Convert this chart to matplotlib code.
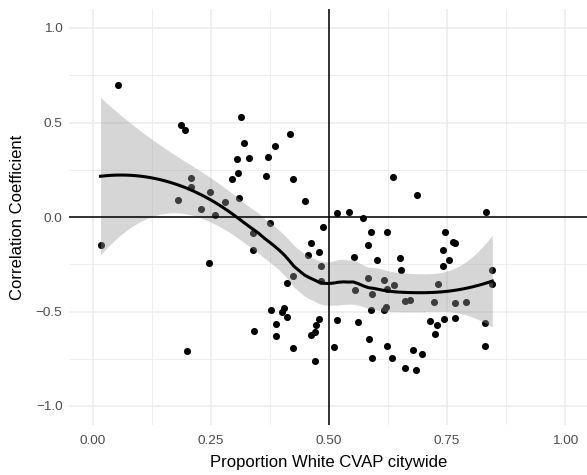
import numpy as np
import matplotlib
matplotlib.use("Agg")
import matplotlib.pyplot as plt

# ---- data ----
prop_white = [0.016, 0.053, 0.181, 0.186, 0.195, 0.200, 0.207, 0.208, 0.229, 0.246,
              0.248, 0.258, 0.279, 0.294, 0.305, 0.307, 0.310, 0.313, 0.319, 0.331,
              0.338, 0.338, 0.341, 0.366, 0.370, 0.375, 0.377, 0.386, 0.387, 0.387,
              0.400, 0.405, 0.410, 0.410, 0.417, 0.424, 0.424, 0.424, 0.450, 0.456,
              0.462, 0.462, 0.470, 0.470, 0.472, 0.478, 0.479, 0.483, 0.484, 0.487,
              0.510, 0.517, 0.518, 0.543, 0.554, 0.556, 0.561, 0.573, 0.582, 0.583,
              0.585, 0.588, 0.590, 0.591, 0.592, 0.601, 0.617, 0.617, 0.620, 0.622,
              0.623, 0.623, 0.633, 0.635, 0.638, 0.650, 0.652, 0.660, 0.660, 0.671,
              0.677, 0.685, 0.686, 0.698, 0.713, 0.722, 0.725, 0.728, 0.731, 0.742,
              0.742, 0.744, 0.746, 0.754, 0.763, 0.766, 0.766, 0.767, 0.791, 0.831,
              0.831, 0.832, 0.846, 0.846]
corr_coef = [-0.150, 0.698, 0.090, 0.487, 0.460, -0.709, 0.157, 0.205, 0.042, -0.242,
             0.134, 0.009, 0.078, 0.203, 0.307, 0.234, 0.102, 0.529, 0.390, 0.312,
             -0.083, -0.173, -0.605, 0.219, 0.316, -0.032, -0.492, 0.376, -0.568, -0.628,
             -0.504, -0.483, -0.351, -0.531, 0.439, 0.199, -0.310, -0.691, 0.083, -0.200,
             -0.138, -0.626, -0.607, -0.760, -0.573, -0.183, -0.540, -0.261, -0.339, -0.055,
             -0.686, 0.020, -0.543, 0.024, -0.210, -0.385, -0.556, -0.004, -0.323, -0.150,
             -0.644, -0.490, -0.078, -0.744, -0.406, -0.228, -0.335, -0.492, -0.476, -0.079,
             -0.379, -0.683, -0.746, 0.212, -0.362, -0.219, -0.280, -0.446, -0.801, -0.441,
             -0.704, -0.810, 0.115, -0.725, -0.549, -0.451, -0.620, -0.570, -0.357, -0.176,
             -0.261, -0.542, -0.082, -0.230, -0.132, -0.140, -0.537, -0.457, -0.450, -0.559,
             -0.683, 0.025, -0.281, -0.356]

x_ticks = [0.0, 0.25, 0.5, 0.75, 1.0]
x_tick_labels = ["0.00", "0.25", "0.50", "0.75", "1.00"]
y_ticks = [-1.0, -0.5, 0.0, 0.5, 1.0]
y_tick_labels = ["\u22121.0", "\u22120.5", "0.0", "0.5", "1.0"]


def loess(x, y, xs, span=0.75):
    n = len(x)
    q = int(np.floor(n * span))

    def row(x0):
        d = np.abs(x - x0)
        h = np.sort(d)[q - 1] * (1 + 1e-6)
        u = np.clip(d / h, 0, 1)
        w = (1 - u ** 3) ** 3
        X = np.column_stack([np.ones(n), x - x0, (x - x0) ** 2])
        W = X * w[:, None]
        A = X.T @ W
        return np.linalg.solve(A, W.T)[0]

    L = np.array([row(v) for v in x])
    Lg = np.array([row(v) for v in xs])
    fit = Lg @ y
    res = y - L @ y
    M = np.eye(n) - L
    MM = M.T @ M
    d1 = np.trace(MM)
    d2 = np.trace(MM @ MM)
    s = np.sqrt(np.sum(res ** 2) / d1)
    se = s * np.sqrt(np.sum(Lg ** 2, axis=1))
    df = d1 ** 2 / d2
    z = 1.959964
    t = z + (z ** 3 + z) / (4 * df) + (5 * z ** 5 + 16 * z ** 3 + 3 * z) / (96 * df ** 2)
    return fit, fit - t * se, fit + t * se


x = np.array(prop_white)
y = np.array(corr_coef)
xs = np.linspace(x.min(), x.max(), 80)
fit, lo, hi = loess(x, y, xs)

W, H = 587, 475
fig = plt.figure(figsize=(W / 100, H / 100), dpi=100)
plt.rcParams["font.family"] = ["Liberation Sans", "DejaVu Sans"]

# axes in pixel coordinates: x 0 -> 93px, 1 -> 565px ; y 0 -> 217px, 1 -> 28px
xpx = lambda v: 93 + v * 472
ypx = lambda v: 217 - v * 189
left, right = xpx(-0.05), xpx(1.05)
top, bottom = ypx(1.1), ypx(-1.1)
ax = fig.add_axes([left / W, 1 - bottom / H, (right - left) / W, (bottom - top) / H])
ax.set_xlim(-0.05, 1.05)
ax.set_ylim(-1.1, 1.1)

for s in ax.spines.values():
    s.set_visible(False)
ax.set_xticks(x_ticks)
ax.set_xticklabels(x_tick_labels)
ax.set_yticks(y_ticks)
ax.set_yticklabels(y_tick_labels)
ax.set_xticks([0.125, 0.375, 0.625, 0.875], minor=True)
ax.set_yticks([-0.75, -0.25, 0.25, 0.75], minor=True)
ax.tick_params(which="both", length=0)
ax.tick_params(axis="both", labelsize=9.7, labelcolor="#4D4D4D")
ax.tick_params(axis="x", pad=7)
ax.tick_params(axis="y", pad=5)
ax.grid(which="major", color="#EBEBEB", linewidth=1.15)
ax.grid(which="minor", color="#EBEBEB", linewidth=0.6)
ax.set_axisbelow(True)

ax.scatter(x, y, s=26, color="black", linewidths=0, zorder=2)
ax.fill_between(xs, lo, hi, color="#999999", alpha=0.4, linewidth=0, zorder=3)
ax.plot(xs, fit, color="black", linewidth=2.2, zorder=4)
ax.axhline(0, color="black", linewidth=1.1, zorder=5)
ax.axvline(0.5, color="black", linewidth=1.1, zorder=5)

ax.set_xlabel("Proportion White CVAP citywide", fontsize=12, labelpad=6)
ax.set_ylabel("Correlation Coefficient", fontsize=12, labelpad=8)

fig.savefig("out.png", dpi=100)
